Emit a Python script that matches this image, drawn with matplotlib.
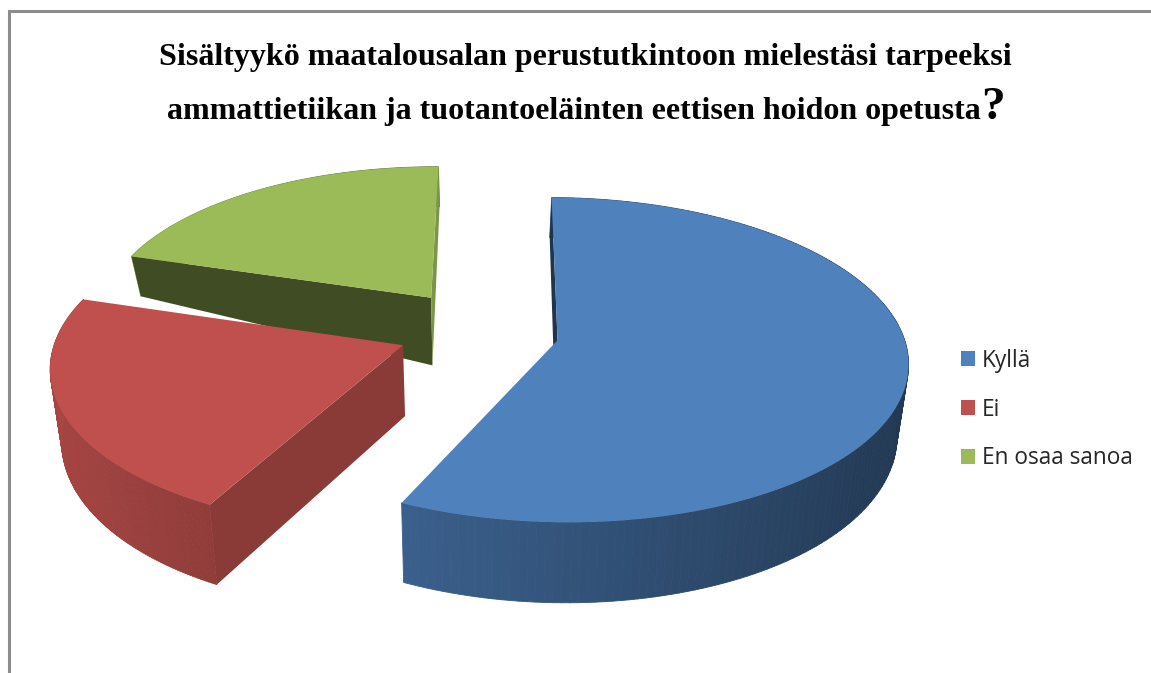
import matplotlib
matplotlib.use('Agg')
import matplotlib.pyplot as plt
import matplotlib.patches as patches
from matplotlib.collections import PolyCollection
import numpy as np

# Data (percent)
labels = ['Kyllä', 'Ei', 'En osaa sanoa']
values = [56.85, 22.75, 20.4]
colors = ['#4F81BD', '#C0504D', '#9BBB59']
title_line1 = 'Sisältyykö maatalousalan perustutkintoon mielestäsi tarpeeksi'
title_line2 = 'ammattietiikan ja tuotantoeläinten eettisen hoidon opetusta'

# Fake 3D projection of the pie, in pixel units of the axes
CX, CY = 478, 332
RX, RY = 345, 158
PERSP = 0.12      # back of the disc is smaller than the front
SHRINK = 0.973    # bottom face converges a little
EXPLODE = 0.235
START_ANGLE = 0.5


def shade(color, f):
    rgb = np.array(matplotlib.colors.to_rgb(color))
    return tuple(rgb * f)


def wall_depth(v):
    return np.clip(70 - 10 * v - 100 * np.maximum(v - 0.185, 0), 40, None)


def project(u, v):
    u, v = np.asarray(u, float), np.asarray(v, float)
    w = 1 + PERSP * v
    return CX + RX * u / w, CY - RY * v / w


def bottom(u, v):
    x, y = project(u, v)
    return CX + (x - CX) * SHRINK, y + wall_depth(v)


def draw_wedge(ax, start, end, color, start_f, end_f, lift, radius, turn):
    mid = np.radians((start + end) / 2)
    ou, ov = EXPLODE * np.sin(mid), EXPLODE * np.cos(mid)
    th = np.radians(np.linspace(start + turn, end, 160))
    u = ou + radius * np.sin(th)
    v = ov + radius * np.cos(th)

    # outer wall, shaded left to right
    xt, yt = project(u, v)
    xb, yb = bottom(u, v)
    yt, yb = yt + lift, yb + lift
    quads = []
    cols = []
    for i in range(len(th) - 1):
        quads.append([(xt[i], yt[i]), (xt[i + 1], yt[i + 1]), (xb[i + 1], yb[i + 1]), (xb[i], yb[i])])
        cols.append(shade(color, 0.65 - 0.22 * np.sin(th[i])))
    ax.add_collection(PolyCollection(quads, facecolors=cols, edgecolors=cols, linewidths=0.6))

    # radial walls, None means the wall faces away
    xa, ya = project(ou, ov)
    xa2, ya2 = bottom(ou, ov)
    ya, ya2 = ya + lift, ya2 + lift
    for j, f in [(0, start_f), (-1, end_f)]:
        if f is None:
            continue
        ax.add_patch(patches.Polygon([(xa, ya), (xt[j], yt[j]), (xb[j], yb[j]), (xa2, ya2)],
                                     facecolor=shade(color, f), edgecolor='none'))

    # top face
    pts = [(xa, ya)] + list(zip(xt, yt))
    ax.add_patch(patches.Polygon(pts, facecolor=color, edgecolor='none'))


fig = plt.figure(figsize=(11.51, 6.73), dpi=100)
ax = fig.add_axes([0, 0, 1, 1])
ax.set_xlim(0, 1151)
ax.set_ylim(673, 0)
ax.axis('off')

# chart frame, runs off the right and bottom edge
ax.plot([9.5, 9.5, 1160], [680, 10.5, 10.5], color='#8C8C8C', lw=2.2, solid_joinstyle='miter')

# slices, back to front
angles = np.cumsum([0] + values) / sum(values) * 360 + START_ANGLE
wall_f = [(0.40, None), (0.72, None), (0.41, 0.80)]
lifts = [0, -2, -5]
radii = [1, 1, 0.965]
turns = [0, 3, 0]
for i in [2, 1, 0]:
    draw_wedge(ax, angles[i], angles[i + 1], colors[i], wall_f[i][0], wall_f[i][1],
               lifts[i], radii[i], turns[i])

# title
ax.text(585.5, 57, title_line1, ha='center', va='center', family='Liberation Serif',
        fontweight='bold', fontsize=23, color='black')
ax.text(573.5, 112, title_line2, ha='center', va='center', family='Liberation Serif',
        fontweight='bold', fontsize=23, color='black')
ax.text(981, 108, '?', ha='left', va='center', family='Liberation Serif',
        fontweight='bold', fontsize=34, color='black')

# legend
handles = [patches.Patch(facecolor=c, edgecolor='none') for c in colors]
ax.legend(handles, labels, loc='center left', bbox_to_anchor=(961, 409.5),
          bbox_transform=ax.transData, frameon=False, prop={'family': 'Open Sans', 'size': 16.3},
          handlelength=0.62, handleheight=0.62, handletextpad=0.3, labelspacing=1.1,
          labelcolor='#262626', borderpad=0, borderaxespad=0)

fig.savefig('out.png', dpi=100)
